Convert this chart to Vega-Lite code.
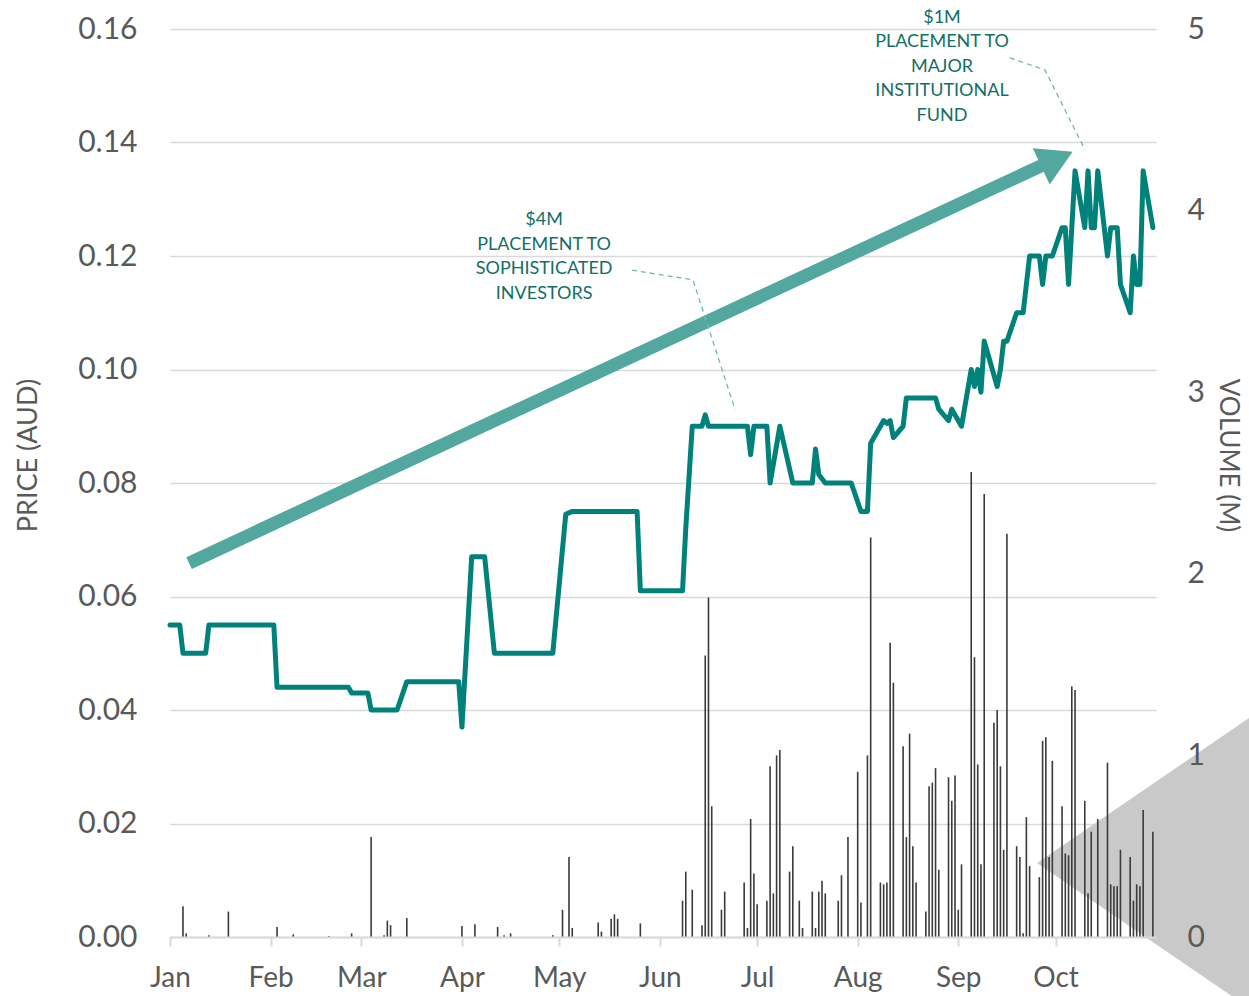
{
  "$schema": "https://vega.github.io/schema/vega-lite/v6.json",
  "width": 986,
  "height": 908,
  "autosize": {"type": "none"},
  "padding": {"left": 170, "top": 29, "right": 93, "bottom": 59},
  "background": "white",
  "config": {
    "view": {"stroke": null},
    "font": "Lato",
    "axis": {"labelFont": "Lato", "titleFont": "Lato", "labelColor": "#595959", "titleColor": "#595959", "titleFontWeight": "normal"}
  },
  "datasets": {
    "price": [
      {"date": "2022-01-01T00:00", "price": 0.055}, {"date": "2022-01-04T00:00", "price": 0.055},
      {"date": "2022-01-05T00:00", "price": 0.050}, {"date": "2022-01-12T00:00", "price": 0.050},
      {"date": "2022-01-13T00:00", "price": 0.055}, {"date": "2022-02-02T00:00", "price": 0.055},
      {"date": "2022-02-03T00:00", "price": 0.044}, {"date": "2022-02-25T00:00", "price": 0.044},
      {"date": "2022-02-26T00:00", "price": 0.043}, {"date": "2022-03-03T00:00", "price": 0.043},
      {"date": "2022-03-04T00:00", "price": 0.040}, {"date": "2022-03-12T00:00", "price": 0.040},
      {"date": "2022-03-15T00:00", "price": 0.045}, {"date": "2022-03-31T00:00", "price": 0.045},
      {"date": "2022-04-01T00:00", "price": 0.037}, {"date": "2022-04-04T00:00", "price": 0.067},
      {"date": "2022-04-08T00:00", "price": 0.067}, {"date": "2022-04-11T00:00", "price": 0.050},
      {"date": "2022-04-29T00:00", "price": 0.050}, {"date": "2022-05-03T00:00", "price": 0.0745},
      {"date": "2022-05-05T00:00", "price": 0.075}, {"date": "2022-05-25T00:00", "price": 0.075},
      {"date": "2022-05-26T00:00", "price": 0.061}, {"date": "2022-06-08T00:00", "price": 0.061},
      {"date": "2022-06-09T00:00", "price": 0.072}, {"date": "2022-06-11T00:00", "price": 0.090},
      {"date": "2022-06-14T00:00", "price": 0.090}, {"date": "2022-06-15T00:00", "price": 0.092},
      {"date": "2022-06-16T00:00", "price": 0.090}, {"date": "2022-06-28T00:00", "price": 0.090},
      {"date": "2022-06-29T00:00", "price": 0.085}, {"date": "2022-06-30T00:00", "price": 0.090},
      {"date": "2022-07-04T00:00", "price": 0.090}, {"date": "2022-07-05T00:00", "price": 0.080},
      {"date": "2022-07-08T00:00", "price": 0.090}, {"date": "2022-07-12T00:00", "price": 0.080},
      {"date": "2022-07-18T00:00", "price": 0.080}, {"date": "2022-07-19T00:00", "price": 0.086},
      {"date": "2022-07-20T00:00", "price": 0.0815}, {"date": "2022-07-22T00:00", "price": 0.080},
      {"date": "2022-07-30T00:00", "price": 0.080}, {"date": "2022-08-02T00:00", "price": 0.075},
      {"date": "2022-08-04T00:00", "price": 0.075}, {"date": "2022-08-05T00:00", "price": 0.087},
      {"date": "2022-08-09T00:00", "price": 0.091}, {"date": "2022-08-10T00:00", "price": 0.0905},
      {"date": "2022-08-11T00:00", "price": 0.091}, {"date": "2022-08-12T00:00", "price": 0.088},
      {"date": "2022-08-15T00:00", "price": 0.090}, {"date": "2022-08-16T00:00", "price": 0.095},
      {"date": "2022-08-25T00:00", "price": 0.095}, {"date": "2022-08-26T00:00", "price": 0.093},
      {"date": "2022-08-29T00:00", "price": 0.091}, {"date": "2022-08-30T00:00", "price": 0.093},
      {"date": "2022-09-02T00:00", "price": 0.090}, {"date": "2022-09-05T00:00", "price": 0.100},
      {"date": "2022-09-06T00:00", "price": 0.097}, {"date": "2022-09-07T00:00", "price": 0.100},
      {"date": "2022-09-08T00:00", "price": 0.096}, {"date": "2022-09-09T00:00", "price": 0.105},
      {"date": "2022-09-13T00:00", "price": 0.097}, {"date": "2022-09-14T00:00", "price": 0.100},
      {"date": "2022-09-15T00:00", "price": 0.105}, {"date": "2022-09-16T00:00", "price": 0.105},
      {"date": "2022-09-19T00:00", "price": 0.110}, {"date": "2022-09-21T00:00", "price": 0.110},
      {"date": "2022-09-23T00:00", "price": 0.120}, {"date": "2022-09-26T00:00", "price": 0.120},
      {"date": "2022-09-27T00:00", "price": 0.115}, {"date": "2022-09-28T00:00", "price": 0.120},
      {"date": "2022-09-30T00:00", "price": 0.120}, {"date": "2022-10-03T00:00", "price": 0.125},
      {"date": "2022-10-04T00:00", "price": 0.125}, {"date": "2022-10-05T00:00", "price": 0.115},
      {"date": "2022-10-07T00:00", "price": 0.135}, {"date": "2022-10-10T00:00", "price": 0.125},
      {"date": "2022-10-11T00:00", "price": 0.135}, {"date": "2022-10-12T00:00", "price": 0.125},
      {"date": "2022-10-13T00:00", "price": 0.125}, {"date": "2022-10-14T00:00", "price": 0.135},
      {"date": "2022-10-17T00:00", "price": 0.120}, {"date": "2022-10-18T00:00", "price": 0.125},
      {"date": "2022-10-20T00:00", "price": 0.125}, {"date": "2022-10-21T00:00", "price": 0.115},
      {"date": "2022-10-24T00:00", "price": 0.110}, {"date": "2022-10-25T00:00", "price": 0.120},
      {"date": "2022-10-26T00:00", "price": 0.115}, {"date": "2022-10-27T00:00", "price": 0.115},
      {"date": "2022-10-28T00:00", "price": 0.135}, {"date": "2022-10-31T00:00", "price": 0.125}
    ],
    "volume": [
      {"date": "2022-01-05T00:00", "volume": 0.17}, {"date": "2022-01-06T00:00", "volume": 0.02},
      {"date": "2022-01-13T00:00", "volume": 0.01}, {"date": "2022-01-19T00:00", "volume": 0.14},
      {"date": "2022-02-03T00:00", "volume": 0.055}, {"date": "2022-02-08T00:00", "volume": 0.015},
      {"date": "2022-02-19T00:00", "volume": 0.005}, {"date": "2022-02-26T00:00", "volume": 0.02},
      {"date": "2022-03-04T00:00", "volume": 0.55}, {"date": "2022-03-08T00:00", "volume": 0.01},
      {"date": "2022-03-09T00:00", "volume": 0.09}, {"date": "2022-03-10T00:00", "volume": 0.065},
      {"date": "2022-03-15T00:00", "volume": 0.105}, {"date": "2022-04-01T00:00", "volume": 0.06},
      {"date": "2022-04-05T00:00", "volume": 0.07}, {"date": "2022-04-12T00:00", "volume": 0.055},
      {"date": "2022-04-14T00:00", "volume": 0.01}, {"date": "2022-04-16T00:00", "volume": 0.02},
      {"date": "2022-04-29T00:00", "volume": 0.01}, {"date": "2022-05-02T00:00", "volume": 0.15},
      {"date": "2022-05-04T00:00", "volume": 0.44}, {"date": "2022-05-05T00:00", "volume": 0.05},
      {"date": "2022-05-13T00:00", "volume": 0.08}, {"date": "2022-05-14T00:00", "volume": 0.03},
      {"date": "2022-05-17T00:00", "volume": 0.10}, {"date": "2022-05-18T00:00", "volume": 0.125},
      {"date": "2022-05-19T00:00", "volume": 0.10}, {"date": "2022-05-26T00:00", "volume": 0.075},
      {"date": "2022-06-08T00:00", "volume": 0.20}, {"date": "2022-06-09T00:00", "volume": 0.36},
      {"date": "2022-06-11T00:00", "volume": 0.26}, {"date": "2022-06-14T00:00", "volume": 0.065},
      {"date": "2022-06-15T00:00", "volume": 1.55}, {"date": "2022-06-16T00:00", "volume": 1.87},
      {"date": "2022-06-17T00:00", "volume": 0.72}, {"date": "2022-06-20T00:00", "volume": 0.15},
      {"date": "2022-06-21T00:00", "volume": 0.25}, {"date": "2022-06-27T00:00", "volume": 0.30},
      {"date": "2022-06-28T00:00", "volume": 0.05}, {"date": "2022-06-29T00:00", "volume": 0.65},
      {"date": "2022-06-30T00:00", "volume": 0.35}, {"date": "2022-07-01T00:00", "volume": 0.18},
      {"date": "2022-07-04T00:00", "volume": 0.20}, {"date": "2022-07-05T00:00", "volume": 0.94},
      {"date": "2022-07-06T00:00", "volume": 0.24}, {"date": "2022-07-07T00:00", "volume": 1.0},
      {"date": "2022-07-08T00:00", "volume": 1.03}, {"date": "2022-07-11T00:00", "volume": 0.36},
      {"date": "2022-07-12T00:00", "volume": 0.50}, {"date": "2022-07-14T00:00", "volume": 0.20},
      {"date": "2022-07-15T00:00", "volume": 0.05}, {"date": "2022-07-18T00:00", "volume": 0.25},
      {"date": "2022-07-19T00:00", "volume": 0.05}, {"date": "2022-07-20T00:00", "volume": 0.25},
      {"date": "2022-07-21T00:00", "volume": 0.31}, {"date": "2022-07-22T00:00", "volume": 0.24},
      {"date": "2022-07-26T00:00", "volume": 0.20}, {"date": "2022-07-27T00:00", "volume": 0.34},
      {"date": "2022-07-29T00:00", "volume": 0.55}, {"date": "2022-08-01T00:00", "volume": 0.91},
      {"date": "2022-08-02T00:00", "volume": 0.19}, {"date": "2022-08-04T00:00", "volume": 1.0},
      {"date": "2022-08-05T00:00", "volume": 2.2}, {"date": "2022-08-08T00:00", "volume": 0.30},
      {"date": "2022-08-09T00:00", "volume": 0.29}, {"date": "2022-08-10T00:00", "volume": 0.30},
      {"date": "2022-08-11T00:00", "volume": 1.62}, {"date": "2022-08-12T00:00", "volume": 1.40},
      {"date": "2022-08-15T00:00", "volume": 1.05}, {"date": "2022-08-16T00:00", "volume": 0.55},
      {"date": "2022-08-17T00:00", "volume": 1.12}, {"date": "2022-08-18T00:00", "volume": 0.50},
      {"date": "2022-08-19T00:00", "volume": 0.30}, {"date": "2022-08-22T00:00", "volume": 0.14},
      {"date": "2022-08-23T00:00", "volume": 0.83}, {"date": "2022-08-24T00:00", "volume": 0.85},
      {"date": "2022-08-25T00:00", "volume": 0.93}, {"date": "2022-08-26T00:00", "volume": 0.37},
      {"date": "2022-08-29T00:00", "volume": 0.88}, {"date": "2022-08-30T00:00", "volume": 0.75},
      {"date": "2022-08-31T00:00", "volume": 0.89}, {"date": "2022-09-01T00:00", "volume": 0.15},
      {"date": "2022-09-02T00:00", "volume": 0.40}, {"date": "2022-09-05T00:00", "volume": 2.56},
      {"date": "2022-09-06T00:00", "volume": 1.54}, {"date": "2022-09-07T00:00", "volume": 0.95},
      {"date": "2022-09-08T00:00", "volume": 0.40}, {"date": "2022-09-09T00:00", "volume": 2.44},
      {"date": "2022-09-12T00:00", "volume": 1.18}, {"date": "2022-09-13T00:00", "volume": 1.25},
      {"date": "2022-09-14T00:00", "volume": 0.94}, {"date": "2022-09-15T00:00", "volume": 0.48},
      {"date": "2022-09-16T00:00", "volume": 2.22}, {"date": "2022-09-19T00:00", "volume": 0.50},
      {"date": "2022-09-20T00:00", "volume": 0.44}, {"date": "2022-09-21T00:00", "volume": 0.02},
      {"date": "2022-09-22T00:00", "volume": 0.66}, {"date": "2022-09-23T00:00", "volume": 0.39},
      {"date": "2022-09-26T00:00", "volume": 0.33}, {"date": "2022-09-27T00:00", "volume": 1.08},
      {"date": "2022-09-28T00:00", "volume": 1.10}, {"date": "2022-09-29T00:00", "volume": 0.44},
      {"date": "2022-09-30T00:00", "volume": 0.97}, {"date": "2022-10-03T00:00", "volume": 0.72},
      {"date": "2022-10-04T00:00", "volume": 0.46}, {"date": "2022-10-05T00:00", "volume": 0.45},
      {"date": "2022-10-06T00:00", "volume": 1.38}, {"date": "2022-10-07T00:00", "volume": 1.36},
      {"date": "2022-10-10T00:00", "volume": 0.75}, {"date": "2022-10-11T00:00", "volume": 0.24},
      {"date": "2022-10-12T00:00", "volume": 0.58}, {"date": "2022-10-14T00:00", "volume": 0.65},
      {"date": "2022-10-17T00:00", "volume": 0.96}, {"date": "2022-10-18T00:00", "volume": 0.29},
      {"date": "2022-10-19T00:00", "volume": 0.28}, {"date": "2022-10-20T00:00", "volume": 0.28},
      {"date": "2022-10-21T00:00", "volume": 0.48}, {"date": "2022-10-24T00:00", "volume": 0.44},
      {"date": "2022-10-25T00:00", "volume": 0.20}, {"date": "2022-10-26T00:00", "volume": 0.29},
      {"date": "2022-10-27T00:00", "volume": 0.28}, {"date": "2022-10-28T00:00", "volume": 0.70},
      {"date": "2022-10-31T00:00", "volume": 0.58}
    ],
    "triangle": [
      {"date": "2022-09-25T07:00", "top": 0.01304, "bottom": 0.01304},
      {"date": "2022-12-03T00:00", "top": 0.0399, "bottom": -0.0138}
    ],
    "arrow": [
      {"date": "2022-01-06T21:00", "price": 0.0659, "date2": "2022-09-27T17:00", "price2": 0.1362}
    ],
    "arrowhead": [
      {"date": "2022-10-01T10:00", "price": 0.1371}
    ],
    "leaders": [
      {"note": "a", "date": "2022-05-23T10:00", "price": 0.1175},
      {"note": "a", "date": "2022-06-11T05:00", "price": 0.1158},
      {"note": "a", "date": "2022-06-24T05:00", "price": 0.0929},
      {"note": "b", "date": "2022-09-16T22:00", "price": 0.1549},
      {"note": "b", "date": "2022-09-27T17:00", "price": 0.1528},
      {"note": "b", "date": "2022-10-10T02:00", "price": 0.1387}
    ],
    "notes": [
      {"date": "2022-04-26T08:00", "price": 0.1263, "label": "$4M\nPLACEMENT TO\nSOPHISTICATED\nINVESTORS"},
      {"date": "2022-08-27T00:00", "price": 0.1620, "label": "$1M\nPLACEMENT TO\nMAJOR\nINSTITUTIONAL\nFUND"}
    ]
  },
  "layer": [
    {
      "data": {"name": "triangle"},
      "mark": {"type": "area", "color": "#c9c9c9", "clip": false},
      "encoding": {
        "x": {
          "field": "date", "type": "temporal",
          "scale": {"domain": [{"year": 2022, "month": 1, "date": 1}, {"year": 2022, "month": 10, "date": 31, "hours": 23}]},
          "axis": {
            "orient": "bottom", "title": null, "format": "%b",
            "tickCount": {"interval": "month", "step": 1},
            "labelFlush": false, "grid": false, "zindex": 1,
            "domainColor": "#d9d9d9", "domainWidth": 2,
            "tickColor": "#d9d9d9", "tickWidth": 2, "tickSize": 9,
            "labelPadding": 18, "labelFontSize": 28
          }
        },
        "y": {
          "field": "top", "type": "quantitative",
          "scale": {"domain": [0, 0.16], "nice": false, "zero": false},
          "axis": {
            "orient": "left", "values": [0, 0.02, 0.04, 0.06, 0.08, 0.1, 0.12, 0.14, 0.16],
            "format": ".2f", "grid": true, "gridColor": "#d9d9d9", "gridWidth": 1.4,
            "domain": false, "ticks": false, "labelPadding": 33, "labelFontSize": 30,
            "title": "PRICE (AUD)", "titleFontSize": 27, "titlePadding": 35, "titleY": 426
          }
        },
        "y2": {"field": "bottom"}
      }
    },
    {
      "data": {"name": "volume"},
      "mark": {"type": "rule", "color": "#3a3a3a", "strokeWidth": 1.6},
      "encoding": {
        "x": {"field": "date", "type": "temporal"},
        "y": {
          "field": "volume", "type": "quantitative",
          "scale": {"domain": [0, 5], "nice": false},
          "axis": {
            "orient": "right", "values": [0, 1, 2, 3, 4, 5], "format": "d", "zindex": 1,
            "grid": false, "domain": false, "ticks": false, "labelPadding": 31, "labelFontSize": 30,
            "title": "VOLUME (M)", "titleFontSize": 26, "titlePadding": 10, "titleY": 426
          }
        },
        "y2": {"datum": 0}
      }
    },
    {
      "layer": [
        {
          "data": {"name": "price"},
          "mark": {"type": "line", "color": "#00827a", "strokeWidth": 5, "strokeJoin": "round", "strokeCap": "round"},
          "encoding": {
            "x": {"field": "date", "type": "temporal"},
            "y": {"field": "price", "type": "quantitative"}
          }
        },
        {
          "data": {"name": "arrow"},
          "mark": {"type": "rule", "color": "#52a89f", "strokeWidth": 13},
          "encoding": {
            "x": {"field": "date", "type": "temporal"},
            "y": {"field": "price", "type": "quantitative"},
            "x2": {"field": "date2"},
            "y2": {"field": "price2"}
          }
        },
        {
          "data": {"name": "arrowhead"},
          "mark": {"type": "point", "shape": "triangle-right", "filled": true, "size": 1600, "angle": 335, "color": "#52a89f", "opacity": 1},
          "encoding": {
            "x": {"field": "date", "type": "temporal"},
            "y": {"field": "price", "type": "quantitative"}
          }
        },
        {
          "data": {"name": "leaders"},
          "mark": {"type": "line", "color": "#6dbab1", "strokeWidth": 1.3, "strokeDash": [5, 4]},
          "encoding": {
            "x": {"field": "date", "type": "temporal"},
            "y": {"field": "price", "type": "quantitative"},
            "detail": {"field": "note", "type": "nominal"}
          }
        },
        {
          "data": {"name": "notes"},
          "mark": {"type": "text", "color": "#116f67", "fontSize": 18, "font": "Lato", "align": "center", "baseline": "middle", "lineBreak": "\n", "lineHeight": 24.6},
          "encoding": {
            "x": {"field": "date", "type": "temporal"},
            "y": {"field": "price", "type": "quantitative"},
            "text": {"field": "label", "type": "nominal"}
          }
        }
      ],
      "encoding": {
        "y": {"scale": {"domain": [0, 0.16], "nice": false, "zero": false}, "axis": null}
      }
    }
  ],
  "resolve": {"scale": {"y": "independent"}}
}
